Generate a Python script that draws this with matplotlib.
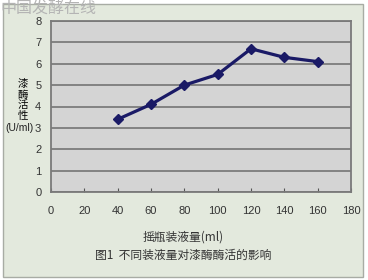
import numpy as np
import matplotlib.pyplot as plt
from matplotlib.patches import Rectangle

plt.rcParams['font.family'] = ['Liberation Sans', 'Noto Sans CJK SC', 'DejaVu Sans']

volume = [40, 60, 80, 100, 120, 140, 160]
activity = [3.4, 4.1, 5.0, 5.5, 6.7, 6.3, 6.1]
xticks = [0, 20, 40, 60, 80, 100, 120, 140, 160, 180]
yticks = [0, 1, 2, 3, 4, 5, 6, 7, 8]

fig = plt.figure(figsize=(3.68, 2.8), dpi=100)
fig.patch.set_facecolor('white')

# outer light green frame
fig.patches.append(Rectangle((3/368, 3/280), 360/368, 273/280, transform=fig.transFigure,
                             facecolor='#e3e9dd', edgecolor='#a8aca4', linewidth=1, zorder=-1))

ax = fig.add_axes([51/368, 1-192/280, 300/368, 171/280])
ax.set_zorder(1)
ax.set_facecolor('#d4d4d4')
ax.plot(volume, activity, color='#1a1a66', linewidth=2.3, marker='D', markersize=5, zorder=3)

ax.set_xlim(0, 180)
ax.set_ylim(0, 8)
ax.set_xticks(xticks)
ax.set_yticks(yticks)
ax.tick_params(axis='x', direction='in', length=3, color='#555555', labelsize=8, pad=10, labelcolor='#333333')
ax.tick_params(axis='y', length=0, labelsize=8, pad=7, labelcolor='#333333')
ax.grid(axis='y', color='#747474', linewidth=1.2)
for s in ax.spines.values():
    s.set_color('#7a7a7a')
    s.set_linewidth(1.3)

fig.text(23/368, 1-100/280, '漆\n酶\n活\n性', ha='center', va='center', fontsize=7.5,
         family=['Noto Sans CJK SC'], fontweight='medium', linespacing=1.05)
fig.text(19/368, 1-128/280, '(U/ml)', ha='center', va='center', fontsize=7.5, color='#222222')

fig.text(183/368, 1-237/280, '摇瓶装液量(ml)', ha='center', va='center', fontsize=8.5,
         family=['Noto Sans CJK SC'], color='#333333')
fig.text(183/368, 1-255/280, '图1  不同装液量对漆酶酶活的影响', ha='center', va='center', fontsize=8.5,
         family=['Noto Sans CJK SC'], color='#333333')

# watermark
fig.text(0, 1-8/280, '中国发酵在线', ha='left', va='center', fontsize=11.5,
         family=['Noto Sans CJK SC'], color='#b4b4b4', fontweight='light')

fig.savefig('out.png', dpi=100)
